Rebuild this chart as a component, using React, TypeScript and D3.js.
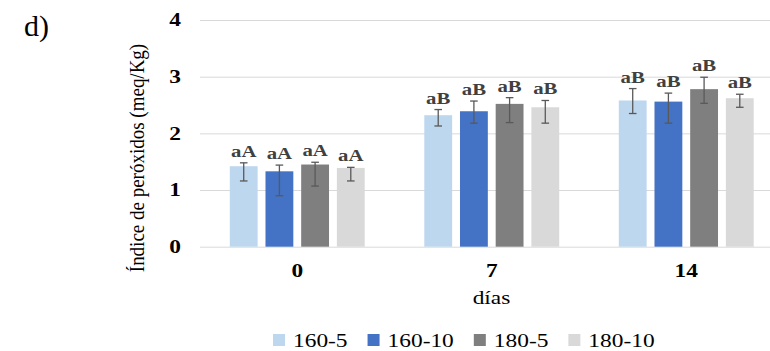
import React, { useRef, useEffect } from "react";
import * as d3 from "d3";

const width = 770;
const height = 351;

const days = ["0", "7", "14"];
const series = ["160-5", "160-10", "180-5", "180-10"];
const colors = ["#BDD7EE", "#4472C4", "#7F7F7F", "#D9D9D9"];

// bar means per series (one per day)
const mean160_5 = [1.42, 2.32, 2.58];
const mean160_10 = [1.33, 2.39, 2.56];
const mean180_5 = [1.45, 2.52, 2.78];
const mean180_10 = [1.39, 2.46, 2.62];

// error bar ends (upper / lower)
const hi160_5 = [1.48, 2.42, 2.79];
const lo160_5 = [1.16, 2.13, 2.35];
const hi160_10 = [1.44, 2.57, 2.71];
const lo160_10 = [0.9, 2.18, 2.18];
const hi180_5 = [1.49, 2.63, 2.99];
const lo180_5 = [1.07, 2.19, 2.53];
const hi180_10 = [1.4, 2.58, 2.69];
const lo180_10 = [1.16, 2.18, 2.46];

const letters = ["aA", "aB", "aB"];
const yTicks = [0, 1, 2, 3, 4];

const means = [mean160_5, mean160_10, mean180_5, mean180_10];
const his = [hi160_5, hi160_10, hi180_5, hi180_10];
const los = [lo160_5, lo160_10, lo180_5, lo180_10];

const serif = "Liberation Serif, Times New Roman, DejaVu Serif, serif";
const sx = 1.3; // the original is stretched sideways

const App = () => {
  const ref = useRef(null);

  useEffect(() => {
    if (!ref.current) return;
    const svg = d3.select(ref.current);
    svg.selectAll("*").remove();

    const left = 200;
    const right = 783.5;
    const top = 20;
    const bottom = 246.7;

    const x0 = d3
      .scaleBand()
      .domain(days)
      .range([left, right])
      .paddingInner(0.266)
      .paddingOuter(0.133);
    const x1 = d3
      .scaleBand()
      .domain(series)
      .range([0, x0.bandwidth()])
      .paddingInner(0.22)
      .paddingOuter(0.11);
    const y = d3.scaleLinear().domain([0, 4]).range([bottom, top]);

    // y axis + grid
    const yAxis = svg
      .append("g")
      .attr("transform", `translate(${left},0)`)
      .call(
        d3
          .axisLeft(y)
          .tickValues(yTicks)
          .tickSize(-(width - left))
          .tickFormat(d3.format("d"))
      )
      .attr("font-family", serif)
      .attr("font-size", 18);
    yAxis.select(".domain").remove();
    yAxis.selectAll("line").attr("stroke", "#d9d9d9").attr("stroke-width", 1);
    yAxis
      .selectAll("text")
      .attr("x", 0)
      .attr("transform", `translate(-19,0) scale(${sx},1)`)
      .attr("font-weight", "bold")
      .attr("fill", "#000");

    // x axis labels
    const xAxis = svg
      .append("g")
      .attr("transform", `translate(0,${bottom})`)
      .call(d3.axisBottom(x0).tickSize(0))
      .attr("font-family", serif)
      .attr("font-size", 18);
    xAxis.select(".domain").remove();
    xAxis
      .selectAll("text")
      .attr("y", 0)
      .attr("dy", 0)
      .attr("transform", `translate(0,30) scale(${sx},1)`)
      .attr("font-weight", "bold")
      .attr("fill", "#000");

    // bars
    const rows = [];
    days.forEach((d, di) => {
      series.forEach((s, si) => {
        rows.push({
          day: d,
          s,
          si,
          v: means[si][di],
          hi: his[si][di],
          lo: los[si][di],
          label: letters[di],
        });
      });
    });

    svg
      .append("g")
      .selectAll("rect")
      .data(rows)
      .join("rect")
      .attr("x", (d) => x0(d.day) + x1(d.s))
      .attr("width", x1.bandwidth())
      .attr("y", (d) => y(d.v))
      .attr("height", (d) => bottom - y(d.v))
      .attr("fill", (d) => colors[d.si]);

    const cx = (d) => x0(d.day) + x1(d.s) + x1.bandwidth() / 2;

    // error bars
    const eb = svg.append("g").attr("stroke", "#595959").attr("stroke-width", 1.3);
    eb.selectAll("line.v")
      .data(rows)
      .join("line")
      .attr("class", "v")
      .attr("x1", cx)
      .attr("x2", cx)
      .attr("y1", (d) => y(d.hi))
      .attr("y2", (d) => y(d.lo));
    ["hi", "lo"].forEach((k) => {
      eb.selectAll(`line.${k}`)
        .data(rows)
        .join("line")
        .attr("class", k)
        .attr("x1", (d) => cx(d) - 3.8)
        .attr("x2", (d) => cx(d) + 3.8)
        .attr("y1", (d) => y(d[k]))
        .attr("y2", (d) => y(d[k]));
    });

    // letter labels
    svg
      .append("g")
      .attr("font-family", serif)
      .attr("font-size", 16)
      .attr("font-weight", "bold")
      .attr("fill", "#404040")
      .attr("text-anchor", "middle")
      .selectAll("text")
      .data(rows)
      .join("text")
      .attr("transform", (d) => `translate(${cx(d)},${y(d.hi) - 6}) scale(${sx},1)`)
      .text((d) => d.label);

    // y title
    svg
      .append("text")
      .attr("text-anchor", "middle")
      .attr("dy", "0.35em")
      .attr("transform", `translate(136,158) scale(1.15,1) rotate(-90)`)
      .attr("font-family", serif)
      .attr("font-size", 19)
      .attr("fill", "#000")
      .text("Índice de peróxidos (meq/Kg)");

    // x title
    svg
      .append("text")
      .attr("text-anchor", "middle")
      .attr("transform", `translate(491.5,304) scale(${sx},1)`)
      .attr("font-family", serif)
      .attr("font-size", 18)
      .attr("fill", "#000")
      .text("días");

    // panel letter
    svg
      .append("text")
      .attr("x", 24)
      .attr("y", 36)
      .attr("font-family", serif)
      .attr("font-size", 30)
      .attr("fill", "#000")
      .text("d)");

    // legend
    const leg = svg.append("g").attr("font-family", serif).attr("font-size", 18);
    let lx = 273;
    series.forEach((s, i) => {
      leg
        .append("rect")
        .attr("x", lx)
        .attr("y", 334)
        .attr("width", 12)
        .attr("height", 12)
        .attr("fill", colors[i]);
      const t = leg
        .append("text")
        .attr("transform", `translate(${lx + 20},346.5) scale(${sx},1)`)
        .attr("fill", "#000")
        .text(s);
      const w = t.node().getComputedTextLength() * sx;
      lx += 12 + 8 + w + 20;
    });
  }, []);

  return (
    <svg
      ref={ref}
      width={width}
      height={height}
      style={{ position: "absolute", left: 0, top: 0, background: "#fff" }}
    />
  );
};

export default App;
